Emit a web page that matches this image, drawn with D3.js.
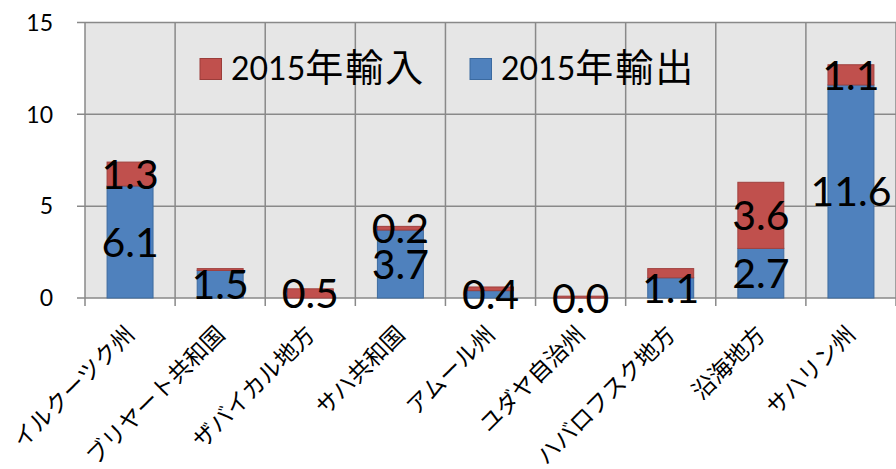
<!DOCTYPE html>
<html>
<head>
<meta charset="utf-8">
<script src="https://cdn.jsdelivr.net/npm/d3@7"></script>
<style>
  body { margin: 0; background: #fff; }
  svg { display: block; }
</style>
</head>
<body>
<svg id="chart"></svg>
<script>
// Data (billion USD, 2015)
const regions = ['イルクーツク州', 'ブリヤート共和国', 'ザバイカル地方', 'サハ共和国', 'アムール州',
                 'ユダヤ自治州', 'ハバロフスク地方', '沿海地方', 'サハリン州'];
const exports2015 = [6.1, 1.5, 0.0, 3.7, 0.4, 0.0, 1.1, 2.7, 11.6];
const imports2015 = [1.3, 0.1, 0.5, 0.2, 0.2, 0.1, 0.5, 3.6, 1.1];
// which data labels are visible in the original
const showExportLabel = [true, true, false, true, true, true, true, true, true];
const showImportLabel = [true, false, true, true, false, false, false, true, true];
const yTicks = [0, 5, 10, 15];
const seriesNames = ['2015年輸入', '2015年輸出'];

const width = 896, height = 469;
const margin = { top: 22.5, right: 0, bottom: 171, left: 85 };

const svg = d3.select('#chart').attr('width', width).attr('height', height);

const x = d3.scaleBand().domain(regions).range([margin.left, width - margin.right]);
const y = d3.scaleLinear().domain([0, 15]).range([height - margin.bottom, margin.top]);

const blue = '#4f81bd', red = '#c0504d', grid = '#898989';

// plot background
svg.append('rect')
    .attr('x', margin.left).attr('y', margin.top)
    .attr('width', width - margin.left - margin.right)
    .attr('height', y(0) - margin.top)
    .attr('fill', '#e6e6e6');

// horizontal gridlines + y ticks
svg.append('g').selectAll('line').data(yTicks).join('line')
    .attr('x1', margin.left - 8).attr('x2', width)
    .attr('y1', d => y(d)).attr('y2', d => y(d))
    .attr('stroke', grid).attr('stroke-width', 1.5);

// vertical gridlines at category boundaries (extend below as ticks)
const bounds = regions.map(r => x(r)).concat([x.range()[1]]);
svg.append('g').selectAll('line').data(bounds).join('line')
    .attr('x1', d => d).attr('x2', d => d)
    .attr('y1', margin.top).attr('y2', y(0) + 8)
    .attr('stroke', grid).attr('stroke-width', 1.5);

// y labels
svg.append('g').selectAll('text').data(yTicks).join('text')
    .attr('x', 53).attr('y', d => y(d)).attr('dy', '0.36em')
    .attr('text-anchor', 'end')
    .attr('font-family', 'Lato, sans-serif').attr('font-size', 23)
    .text(d => d);

// legend (no background, sits on top of grid)
const legend = svg.append('g').attr('font-family', '"Liberation Sans Narrow", Lato, "Noto Sans CJK JP", sans-serif');
const legendItems = [
    { name: seriesNames[0], color: red, stroke: '#9b3d3a', x: 200 },
    { name: seriesNames[1], color: blue, stroke: '#3b6aa0', x: 470 }
];
legendItems.forEach(it => {
    legend.append('rect')
        .attr('x', it.x).attr('y', 58.5).attr('width', 21.5).attr('height', 21)
        .attr('fill', it.color).attr('stroke', it.stroke).attr('stroke-width', 1);
    const t = legend.append('text').attr('x', it.x + 31).attr('y', 80).attr('font-size', 32);
    const m = it.name.match(/^(\d+)(.*)$/);
    t.append('tspan').text(m[1]);
    t.append('tspan').attr('font-family', '"Noto Sans CJK JP", sans-serif')
        .attr('font-size', 38).attr('dy', 1).attr('letter-spacing', 2).text(m[2]);
});

// bars
const barW = x.bandwidth() * 0.51;
const bars = svg.append('g');
regions.forEach((r, i) => {
    const cx = x(r) + x.bandwidth() / 2;
    const e = exports2015[i], im = imports2015[i];
    bars.append('rect')
        .attr('x', cx - barW / 2).attr('width', barW)
        .attr('y', y(e)).attr('height', y(0) - y(e))
        .attr('fill', blue).attr('stroke', '#3d6b9f').attr('stroke-width', 1);
    bars.append('rect')
        .attr('x', cx - barW / 2).attr('width', barW)
        .attr('y', y(e + im)).attr('height', y(e) - y(e + im))
        .attr('fill', red).attr('stroke', '#a0413e').attr('stroke-width', 1);
});

// data labels
const labels = svg.append('g')
    .attr('font-family', 'Lato, sans-serif').attr('font-size', 41)
    .attr('text-anchor', 'middle').attr('fill', '#000');
regions.forEach((r, i) => {
    const cx = x(r) + x.bandwidth() / 2;
    const e = exports2015[i], im = imports2015[i];
    if (showExportLabel[i]) {
        labels.append('text').attr('x', cx).attr('y', y(e / 2)).attr('dy', '0.36em')
            .text(e.toFixed(1));
    }
    if (showImportLabel[i]) {
        labels.append('text').attr('x', cx).attr('y', y(e + im / 2)).attr('dy', '0.36em')
            .text(im.toFixed(1));
    }
});

// category labels, rotated
svg.append('g').selectAll('text').data(regions).join('text')
    .attr('transform', d => `translate(${x(d) + x.bandwidth() / 2 + 6},${336}) rotate(-45)`)
    .attr('text-anchor', 'end')
    .attr('font-family', '"Noto Sans CJK JP", sans-serif').attr('font-size', 23)
    .text(d => d);
</script>
</body>
</html>
